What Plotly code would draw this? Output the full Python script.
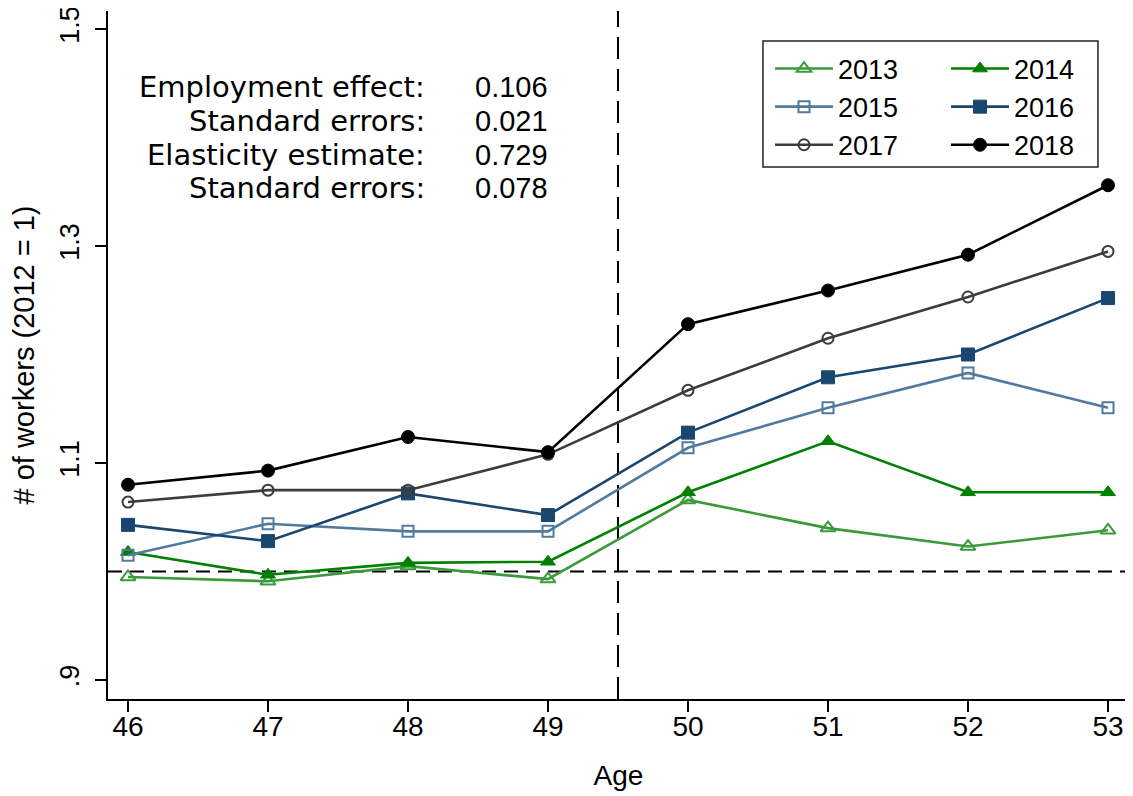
import plotly.graph_objects as go

ages = [46, 47, 48, 49, 50, 51, 52, 53]
years = ["2013", "2014", "2015", "2016", "2017", "2018"]
y2013 = [0.995, 0.991, 1.005, 0.993, 1.066, 1.040, 1.023, 1.038]
y2014 = [1.018, 0.997, 1.008, 1.009, 1.073, 1.120, 1.073, 1.073]
y2015 = [1.015, 1.044, 1.037, 1.037, 1.114, 1.151, 1.183, 1.151]
y2016 = [1.043, 1.028, 1.072, 1.052, 1.128, 1.179, 1.200, 1.252]
y2017 = [1.064, 1.075, 1.075, 1.108, 1.167, 1.215, 1.253, 1.295]
y2018 = [1.080, 1.093, 1.124, 1.110, 1.228, 1.259, 1.292, 1.356]
series = [y2013, y2014, y2015, y2016, y2017, y2018]

colors = ["#3a9a3a", "#008000", "#527a9c", "#1a476f", "#3c3c3c", "#000000"]
symbols = ["triangle-up-open", "triangle-up", "square-open", "square", "circle-open", "circle"]
sizes = [13, 13, 11, 13, 11, 13]
mlw = [2, 1, 2, 1, 2, 1]
legends = ["legend", "legend2", "legend", "legend2", "legend", "legend2"]

stat_labels = ["Employment effect:", "Standard errors:", "Elasticity estimate:", "Standard errors:"]
stat_values = ["0.106", "0.021", "0.729", "0.078"]
stat_y = [1.4461, 1.4152, 1.3843, 1.3535]

yticks = [0.9, 1.1, 1.3, 1.5]
yticklabels = [".9", "1.1", "1.3", "1.5"]

FONT = "Liberation Sans, Arial, sans-serif"
WIDE = "DejaVu Sans, Verdana, sans-serif"

fig = go.Figure()
for name, vals, c, s, sz, lw, lg in zip(years, series, colors, symbols, sizes, mlw, legends):
    fig.add_trace(go.Scatter(
        x=ages, y=vals, name=name, mode="lines+markers", legend=lg,
        line=dict(color=c, width=2.6),
        marker=dict(symbol=s, size=sz, color=c, line=dict(color=c, width=lw)),
    ))

fig.add_hline(y=1, line=dict(color="black", width=2, dash="14px,8px"), layer="below")
fig.add_vline(x=49.5, line=dict(color="black", width=2, dash="22px,10px"), layer="below")

for lab, val, yy in zip(stat_labels, stat_values, stat_y):
    fig.add_annotation(x=48.136, y=yy, text=lab, showarrow=False, xanchor="right",
                       yanchor="middle", font=dict(family=WIDE, size=29, color="black"))
    fig.add_annotation(x=48.464, y=yy, text=val, showarrow=False, xanchor="left",
                       yanchor="middle", font=dict(family=FONT, size=29, color="black"))

# legend frame
fig.add_shape(type="rect", xref="paper", yref="paper", x0=0.6415, x1=0.9696, y0=0.7733, y1=0.9564,
              line=dict(color="#222222", width=1.5), fillcolor="white", layer="above")

leg_common = dict(orientation="v", yanchor="top", xanchor="left", xref="paper", yref="paper",
                  bgcolor="rgba(0,0,0,0)", borderwidth=0, itemwidth=58,
                  font=dict(family=FONT, size=27, color="black"), tracegroupgap=0)

fig.update_layout(
    width=1125, height=788,
    margin=dict(l=100, r=4, t=3, b=97),
    paper_bgcolor="white", plot_bgcolor="white",
    font=dict(family=FONT, size=28, color="black"),
    showlegend=True,
    legend=dict(x=0.6484, y=0.9513, **leg_common),
    legend2=dict(x=0.8208, y=0.9513, **leg_common),
    xaxis=dict(
        range=[45.857, 53.15], tickmode="array", tickvals=ages, automargin=False,
        ticks="outside", ticklen=11, tickwidth=1.5, tickcolor="black",
        showline=True, linecolor="black", linewidth=1.5, showgrid=False, zeroline=False,
        tickfont=dict(size=28), ticklabelstandoff=-9,
        title=dict(text="Age", font=dict(size=28), standoff=24),
    ),
    yaxis=dict(
        range=[0.8825, 1.5166], tickmode="array", tickvals=yticks, ticktext=yticklabels,
        automargin=False, ticklabeloverflow="allow",
        ticks="outside", ticklen=11, tickwidth=1.5, tickcolor="black", tickangle=-90,
        showline=True, linecolor="black", linewidth=1.5, showgrid=False, zeroline=False,
        tickfont=dict(size=27), ticklabelstandoff=5,
        title=dict(text="# of workers (2012 = 1)", font=dict(size=29), standoff=20),
    ),
)

fig.write_html("out.html")
